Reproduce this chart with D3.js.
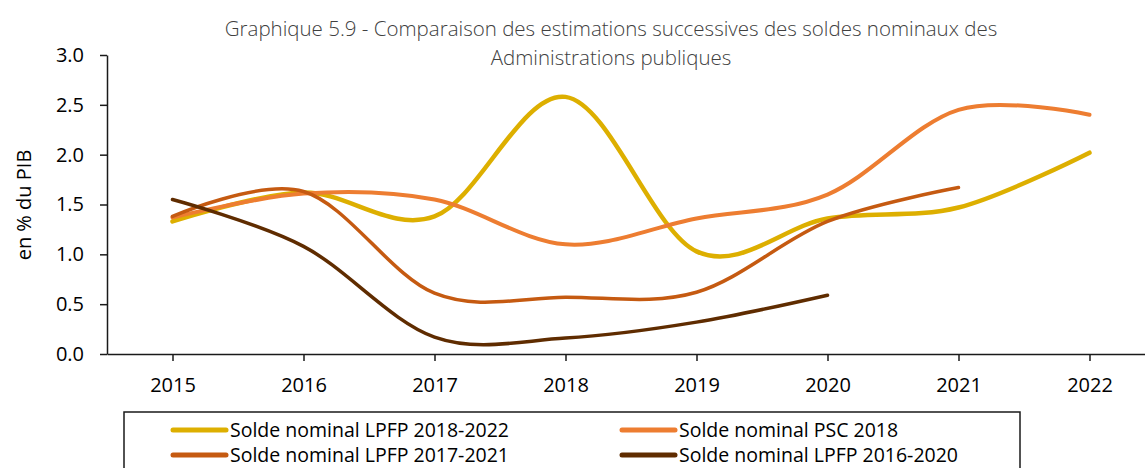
<!DOCTYPE html>
<html>
<head>
<meta charset="utf-8">
<script src="https://cdn.jsdelivr.net/npm/d3@7"></script>
<style>
  body { margin: 0; background: #fff; }
  svg { display: block; }
</style>
</head>
<body>
<div id="container"></div>
<script>
var years = [2015, 2016, 2017, 2018, 2019, 2020, 2021, 2022];
var yTicks = [0, 0.5, 1, 1.5, 2, 2.5, 3];

// one array per series, null where the series has no value
var lpfp1822 = [1.33, 1.62, 1.38, 2.58, 1.03, 1.36, 1.47, 2.02];
var psc2018  = [1.37, 1.61, 1.55, 1.10, 1.36, 1.60, 2.45, 2.40];
var lpfp1721 = [1.38, 1.63, 0.61, 0.57, 0.62, 1.33, 1.67, null];
var lpfp1620 = [1.55, 1.08, 0.17, 0.16, 0.32, 0.59, null, null];

var seriesNames = [
  "Solde nominal LPFP 2018-2022",
  "Solde nominal PSC 2018",
  "Solde nominal LPFP 2017-2021",
  "Solde nominal LPFP 2016-2020"
];

var series = [
  { name: seriesNames[0], values: lpfp1822, color: "#DDAF00", width: 4.5 },
  { name: seriesNames[1], values: psc2018,  color: "#ED7D31", width: 4 },
  { name: seriesNames[2], values: lpfp1721, color: "#C55A11", width: 3.5 },
  { name: seriesNames[3], values: lpfp1620, color: "#5F2C00", width: 3.5 }
];

var W = 1145, H = 468;
var font = "'Open Sans', 'Noto Sans', sans-serif";

var svg = d3.select("#container").append("svg")
  .attr("width", W).attr("height", H)
  .style("font-family", font);

var x = d3.scalePoint().domain(years).range([107, 1155]).padding(0.5);
var y = d3.scaleLinear().domain([0, 3]).range([354, 55]);

// title
var title = svg.append("text")
  .attr("text-anchor", "middle")
  .attr("fill", "#404040")
  .style("font-size", "20.5px")
  .style("font-weight", 300);
title.append("tspan").attr("x", 611).attr("y", 36)
  .text("Graphique 5.9 - Comparaison des estimations successives des soldes nominaux des");
title.append("tspan").attr("x", 611).attr("y", 65)
  .text("Administrations publiques");

// y axis
var yAxis = svg.append("g")
  .attr("transform", "translate(107,0)")
  .call(d3.axisLeft(y).tickValues(yTicks).tickFormat(d3.format(".1f"))
    .tickSize(7).tickSizeOuter(0).tickPadding(16));
yAxis.selectAll("text").style("font-size", "20px").style("font-family", font).attr("fill", "#000");
yAxis.selectAll("line, path").attr("stroke", "#1a1a1a").attr("stroke-width", 1.5);

// x axis
var xAxis = svg.append("g")
  .attr("transform", "translate(0,354)")
  .call(d3.axisBottom(x).tickSize(7).tickSizeOuter(0).tickPadding(17));
xAxis.selectAll("text").style("font-size", "20px").style("font-family", font).attr("fill", "#000");
xAxis.selectAll("line, path").attr("stroke", "#1a1a1a").attr("stroke-width", 1.5);

// y label
svg.append("text")
  .attr("transform", "translate(31,205) rotate(-90)")
  .attr("text-anchor", "middle")
  .style("font-size", "20px")
  .text("en % du PIB");

// lines
var line = d3.line()
  .defined(function(d) { return d != null; })
  .x(function(d, i) { return x(years[i]); })
  .y(function(d) { return y(d); })
  .curve(d3.curveCatmullRom.alpha(0));

svg.selectAll("path.series")
  .data(series)
  .enter().append("path")
  .attr("class", "series")
  .attr("fill", "none")
  .attr("stroke", function(d) { return d.color; })
  .attr("stroke-width", function(d) { return d.width; })
  .attr("stroke-linecap", "round")
  .attr("d", function(d) { return line(d.values); });

// legend
var legend = svg.append("g");
legend.append("rect")
  .attr("x", 124).attr("y", 412)
  .attr("width", 896).attr("height", 80)
  .attr("fill", "#fff").attr("stroke", "#1a1a1a").attr("stroke-width", 1.5);

var legendPos = [
  { lx: 173, ty: 430 }, { lx: 622, ty: 430 },
  { lx: 173, ty: 455 }, { lx: 622, ty: 455 }
];

var items = legend.selectAll("g.item")
  .data(series)
  .enter().append("g")
  .attr("class", "item")
  .attr("transform", function(d, i) { return "translate(" + legendPos[i].lx + "," + legendPos[i].ty + ")"; });

items.append("line")
  .attr("x1", 0).attr("x2", 53).attr("y1", 0).attr("y2", 0)
  .attr("stroke", function(d) { return d.color; })
  .attr("stroke-width", 5)
  .attr("stroke-linecap", "round");

items.append("text")
  .attr("x", 57).attr("y", 0).attr("dy", "0.35em")
  .style("font-size", "19.5px")
  .text(function(d) { return d.name; });
</script>
</body>
</html>
